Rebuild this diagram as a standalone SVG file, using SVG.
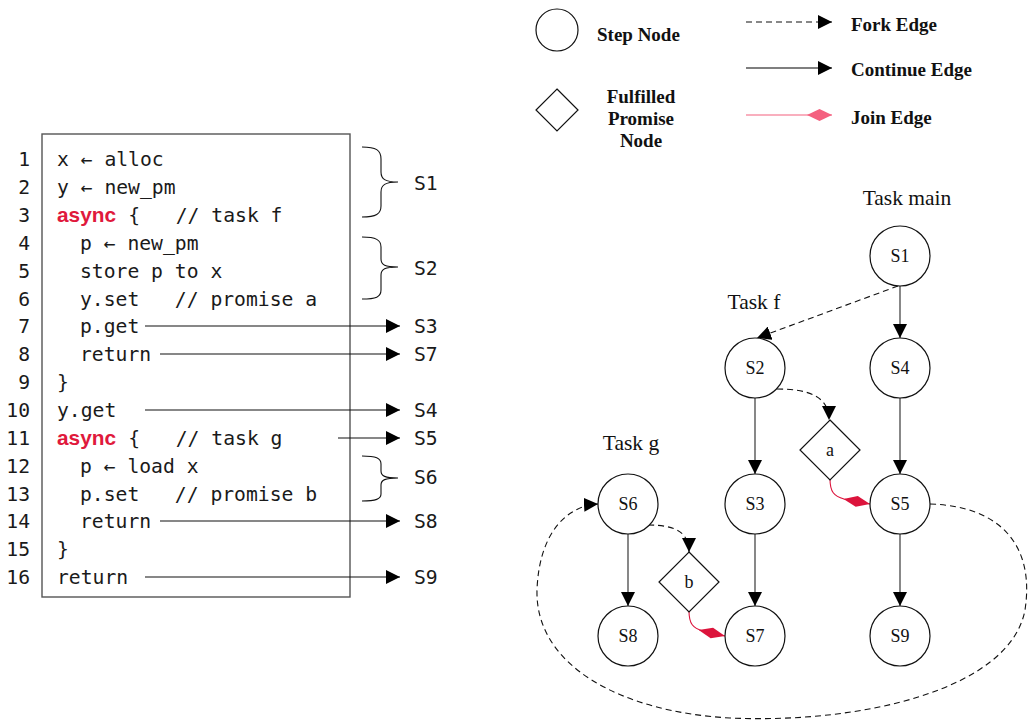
<svg xmlns="http://www.w3.org/2000/svg" width="1028" height="727" viewBox="0 0 1028 727">
<style>
.code{font-family:"DejaVu Sans Mono","Liberation Mono",monospace;font-size:19.7px;fill:#1a1a1a;white-space:pre}
.kw{font-family:"Liberation Sans","DejaVu Sans",sans-serif;font-weight:bold;fill:#e0193c}
.ln{font-family:"DejaVu Sans Mono","Liberation Mono",monospace;font-size:19.7px;fill:#1a1a1a;text-anchor:end}
.lbl{font-family:"DejaVu Sans Mono","Liberation Mono",monospace;font-size:19.7px;fill:#1a1a1a;dominant-baseline:central}
.leg{font-family:"Liberation Serif","DejaVu Serif",serif;font-weight:bold;font-size:19px;fill:#111;dominant-baseline:central}
.task{font-family:"Liberation Serif","DejaVu Serif",serif;font-size:21.5px;fill:#111;text-anchor:middle}
.nt{font-family:"Liberation Serif","DejaVu Serif",serif;font-size:18px;fill:#111;text-anchor:middle;dominant-baseline:central}
.node{fill:#fff;stroke:#111;stroke-width:1.2}
.cont{fill:none;stroke:#555;stroke-width:1.4}
.fork{fill:none;stroke:#111;stroke-width:1.1;stroke-dasharray:6 4}
.join{fill:none;stroke:#dc143c;stroke-width:1.1}
.arr{fill:none;stroke:#111;stroke-width:1.2}
.brace{fill:none;stroke:#111;stroke-width:1.1}
</style>
<defs>
<marker id="ah" markerUnits="userSpaceOnUse" markerWidth="14" markerHeight="14" refX="12" refY="6" orient="auto" viewBox="0 0 12 12">
<path d="M0,0 L12,6 L0,12 Z" fill="#000"/>
</marker>
<marker id="jd" markerUnits="userSpaceOnUse" markerWidth="28" markerHeight="14" refX="27" refY="6" orient="auto" viewBox="0 0 28 12">
<path d="M0,6 L13.5,0.5 L27,6 L13.5,11.5 Z" fill="#dc143c"/>
</marker>
<marker id="jdl" markerUnits="userSpaceOnUse" markerWidth="28" markerHeight="14" refX="25" refY="6" orient="auto" viewBox="0 0 28 12">
<path d="M0,6 L12.5,0 L25,6 L12.5,12 Z" fill="#f4607f"/>
</marker>
</defs>

<!-- Code listing -->
<g id="code">
<rect x="42" y="134" width="308" height="463" fill="#fff" stroke="#555" stroke-width="1.4"/>
<text class="ln" x="30" y="166">1</text>
<text class="ln" x="30" y="194">2</text>
<text class="ln" x="30" y="222">3</text>
<text class="ln" x="30" y="250">4</text>
<text class="ln" x="30" y="278">5</text>
<text class="ln" x="30" y="306">6</text>
<text class="ln" x="30" y="333">7</text>
<text class="ln" x="30" y="361">8</text>
<text class="ln" x="30" y="389">9</text>
<text class="ln" x="30" y="417">10</text>
<text class="ln" x="30" y="445">11</text>
<text class="ln" x="30" y="473">12</text>
<text class="ln" x="30" y="501">13</text>
<text class="ln" x="30" y="528">14</text>
<text class="ln" x="30" y="556">15</text>
<text class="ln" x="30" y="584">16</text>
<text class="code" x="57" y="166">x ← alloc</text>
<text class="code" x="57" y="194">y ← new_pm</text>
<text class="code" x="57" y="222"><tspan class="kw" textLength="59" lengthAdjust="spacingAndGlyphs">async</tspan><tspan x="116.5"> {   // task f</tspan></text>
<text class="code" x="80" y="250">p ← new_pm</text>
<text class="code" x="80" y="278">store p to x</text>
<text class="code" x="80" y="306">y.set   // promise a</text>
<text class="code" x="80" y="333">p.get</text>
<text class="code" x="80" y="361">return</text>
<text class="code" x="57" y="389">}</text>
<text class="code" x="57" y="417">y.get</text>
<text class="code" x="57" y="445"><tspan class="kw" textLength="59" lengthAdjust="spacingAndGlyphs">async</tspan><tspan x="116.5"> {   // task g</tspan></text>
<text class="code" x="80" y="473">p ← load x</text>
<text class="code" x="80" y="501">p.set   // promise b</text>
<text class="code" x="80" y="528">return</text>
<text class="code" x="57" y="556">}</text>
<text class="code" x="57" y="584">return</text>
</g>

<g id="code-links">
<path class="brace" d="M362,147 C376,147 381,150 381,159 L381,172 C381,179 385,182 398,182 C385,182 381,185 381,192 L381,206 C381,214 376,217 362,217"/>
<path class="brace" d="M362,237 C376,237 381,240 381,247 L381,259 C381,265 385,267 398,267 C385,267 381,269 381,275 L381,290 C381,297 376,299 362,299"/>
<path class="brace" d="M362,456 C376,456 381,458 381,464 L381,471 C381,476 385,478 398,478 C385,478 381,480 381,485 L381,494 C381,499 376,501 362,501"/>
<line class="arr" x1="145" y1="326" x2="400" y2="326" marker-end="url(#ah)"/>
<line class="arr" x1="160" y1="354" x2="400" y2="354" marker-end="url(#ah)"/>
<line class="arr" x1="145" y1="410" x2="400" y2="410" marker-end="url(#ah)"/>
<line class="arr" x1="338" y1="438" x2="400" y2="438" marker-end="url(#ah)"/>
<line class="arr" x1="160" y1="521" x2="400" y2="521" marker-end="url(#ah)"/>
<line class="arr" x1="145" y1="577" x2="400" y2="577" marker-end="url(#ah)"/>
<text class="lbl" x="414" y="183">S1</text>
<text class="lbl" x="414" y="268">S2</text>
<text class="lbl" x="414" y="326">S3</text>
<text class="lbl" x="414" y="354">S7</text>
<text class="lbl" x="414" y="410">S4</text>
<text class="lbl" x="414" y="438">S5</text>
<text class="lbl" x="414" y="477">S6</text>
<text class="lbl" x="414" y="521">S8</text>
<text class="lbl" x="414" y="577">S9</text>
</g>

<!-- Legend -->
<g id="legend">
<circle class="node" cx="557" cy="30" r="21"/>
<text class="leg" x="597" y="34">Step Node</text>
<path class="node" d="M557,89 L578,110 L557,131 L536,110 Z"/>
<text class="leg" x="641" y="96" text-anchor="middle">Fulfilled</text>
<text class="leg" x="641" y="118" text-anchor="middle">Promise</text>
<text class="leg" x="641" y="140" text-anchor="middle">Node</text>
<line class="fork" x1="746" y1="22" x2="832" y2="22" marker-end="url(#ah)"/>
<text class="leg" x="851" y="24">Fork Edge</text>
<line class="cont" x1="746" y1="68" x2="832" y2="68" stroke="#777" marker-end="url(#ah)"/>
<text class="leg" x="851" y="69">Continue Edge</text>
<line x1="746" y1="115" x2="832" y2="115" stroke="#f4607f" stroke-width="1.1" marker-end="url(#jdl)"/>
<text class="leg" x="851" y="117">Join Edge</text>
</g>

<!-- Task labels -->
<text class="task" x="907" y="205">Task main</text>
<text class="task" x="754" y="309">Task f</text>
<text class="task" x="631" y="450">Task g</text>

<!-- Connectors -->
<g id="edges">
<line class="cont" x1="900" y1="286" x2="900" y2="338" marker-end="url(#ah)"/>
<line class="cont" x1="900" y1="398" x2="900" y2="474" marker-end="url(#ah)"/>
<line class="cont" x1="900" y1="534" x2="900" y2="606" marker-end="url(#ah)"/>
<line class="cont" x1="755" y1="398" x2="755" y2="474" marker-end="url(#ah)"/>
<line class="cont" x1="755" y1="534" x2="755" y2="606" marker-end="url(#ah)"/>
<line class="cont" x1="628" y1="534" x2="628" y2="606" marker-end="url(#ah)"/>
<path class="fork" d="M898,286 L757,338" marker-end="url(#ah)"/>
<path class="fork" d="M777,389 C808,389 829,396 829,420" marker-end="url(#ah)"/>
<path class="fork" d="M648,525 C675,525 689,532 689,552" marker-end="url(#ah)"/>
<path class="fork" d="M930,504 C1000,506 1035,545 1025,610 C1010,690 860,724 730,718 C620,712 535,665 537,590 C539,535 565,506 598,504" marker-end="url(#ah)"/>
<path class="join" d="M830,479 C830,492 834,496 844,499 L870,504" marker-end="url(#jd)"/>
<path class="join" d="M689,611 C689,624 693,628 703,631 L725,636" marker-end="url(#jd)"/>
</g>

<!-- Nodes -->
<g id="S1"><circle class="node" cx="900" cy="256" r="30"/><text class="nt" x="900" y="256">S1</text></g>
<g id="S4"><circle class="node" cx="900" cy="368" r="30"/><text class="nt" x="900" y="368">S4</text></g>
<g id="S5"><circle class="node" cx="900" cy="504" r="30"/><text class="nt" x="900" y="504">S5</text></g>
<g id="S9"><circle class="node" cx="900" cy="636" r="30"/><text class="nt" x="900" y="636">S9</text></g>
<g id="S2"><circle class="node" cx="755" cy="368" r="30"/><text class="nt" x="755" y="368">S2</text></g>
<g id="S3"><circle class="node" cx="755" cy="504" r="30"/><text class="nt" x="755" y="504">S3</text></g>
<g id="S7"><circle class="node" cx="755" cy="636" r="30"/><text class="nt" x="755" y="636">S7</text></g>
<g id="S6"><circle class="node" cx="628" cy="504" r="30"/><text class="nt" x="628" y="504">S6</text></g>
<g id="S8"><circle class="node" cx="628" cy="636" r="30"/><text class="nt" x="628" y="636">S8</text></g>
<g id="a"><path class="node" d="M830,420 L860,450 L830,480 L800,450 Z"/><text class="nt" x="830" y="450">a</text></g>
<g id="b"><path class="node" d="M689,552 L719,582 L689,612 L659,582 Z"/><text class="nt" x="689" y="582">b</text></g>
</svg>
